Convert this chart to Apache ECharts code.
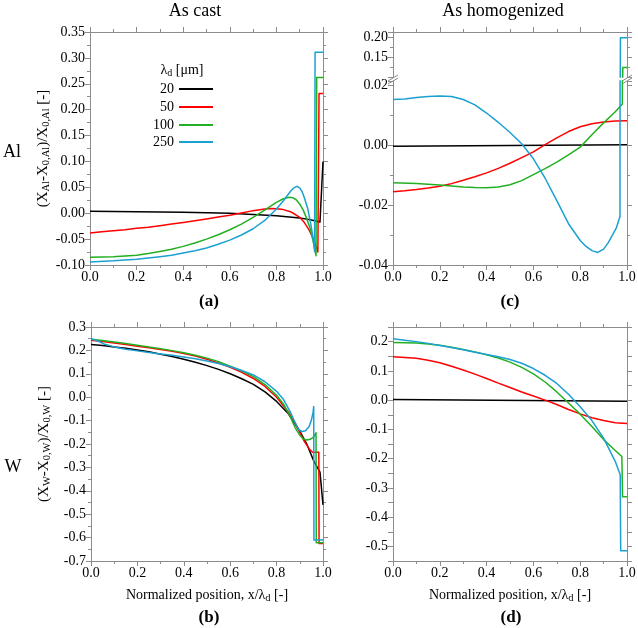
<!DOCTYPE html>
<html><head><meta charset="utf-8">
<script src="https://cdn.jsdelivr.net/npm/echarts@6/dist/echarts.min.js"></script>
<style>html,body{margin:0;padding:0;background:#fff}#c{width:638px;height:628px}</style>
</head><body><div id="c"></div>
<script>
// ---------- DATA ----------
const seriesNames = ['20', '50', '100', '250'];

// Panel (a): Al, as cast
const a20_x = [0, 0.2, 0.4, 0.6, 0.8, 0.9, 0.95, 0.987, 1.0];
const a20_y = [0.004, 0.003, 0.002, 0.0, -0.005, -0.009, -0.013, -0.017, 0.10];
const a50_x = [0, 0.05, 0.1, 0.15, 0.2, 0.25, 0.3, 0.35, 0.4, 0.45, 0.5, 0.55, 0.6, 0.65, 0.7, 0.75, 0.78, 0.8, 0.83, 0.86, 0.88, 0.9, 0.92, 0.94, 0.96, 0.978, 0.983, 1.0];
const a50_y = [-0.038, -0.036, -0.034, -0.032, -0.029, -0.027, -0.024, -0.021, -0.018, -0.0145, -0.011, -0.0075, -0.004, 0.0005, 0.005, 0.008, 0.009, 0.0088, 0.007, 0.003, -0.002, -0.008, -0.018, -0.032, -0.050, -0.075, 0.231, 0.231];
const a100_x = [0, 0.05, 0.1, 0.15, 0.2, 0.25, 0.3, 0.35, 0.4, 0.45, 0.5, 0.55, 0.6, 0.65, 0.7, 0.75, 0.78, 0.8, 0.83, 0.855, 0.87, 0.885, 0.9, 0.915, 0.93, 0.945, 0.958, 0.97, 0.973, 1.0];
const a100_y = [-0.085, -0.0845, -0.084, -0.0825, -0.081, -0.078, -0.074, -0.0695, -0.064, -0.0575, -0.050, -0.0415, -0.032, -0.021, -0.008, 0.006, 0.015, 0.021, 0.028, 0.031, 0.030, 0.026, 0.018, 0.006, -0.010, -0.030, -0.055, -0.082, 0.262, 0.262];
const a250_x = [0, 0.1, 0.2, 0.3, 0.35, 0.4, 0.45, 0.5, 0.55, 0.6, 0.65, 0.7, 0.75, 0.8, 0.83, 0.86, 0.875, 0.888, 0.9, 0.91, 0.92, 0.935, 0.948, 0.958, 0.964, 0.966, 1.0];
const a250_y = [-0.094, -0.092, -0.089, -0.084, -0.081, -0.077, -0.0725, -0.067, -0.060, -0.052, -0.042, -0.030, -0.014, 0.008, 0.024, 0.042, 0.049, 0.052, 0.049, 0.042, 0.030, 0.008, -0.022, -0.050, -0.074, 0.311, 0.311];

// Panel (b): W, as cast
const b20_x = [0, 0.05, 0.1, 0.15, 0.2, 0.25, 0.3, 0.35, 0.4, 0.45, 0.5, 0.55, 0.6, 0.65, 0.7, 0.75, 0.8, 0.85, 0.9, 0.93, 0.96, 0.987, 1.0];
const b20_y = [0.225, 0.221, 0.215, 0.209, 0.202, 0.194, 0.184, 0.174, 0.162, 0.149, 0.135, 0.119, 0.100, 0.079, 0.055, 0.023, -0.018, -0.070, -0.145, -0.200, -0.272, -0.320, -0.460];
const b50_x = [0, 0.05, 0.1, 0.15, 0.2, 0.25, 0.3, 0.35, 0.4, 0.45, 0.5, 0.55, 0.6, 0.65, 0.7, 0.75, 0.8, 0.85, 0.88, 0.9, 0.92, 0.94, 0.955, 0.982, 0.983, 1.0];
const b50_y = [0.243, 0.238, 0.232, 0.225, 0.218, 0.211, 0.204, 0.196, 0.187, 0.176, 0.162, 0.146, 0.128, 0.106, 0.080, 0.046, 0.000, -0.062, -0.110, -0.150, -0.190, -0.220, -0.235, -0.235, -0.625, -0.625];
const b100_x = [0, 0.05, 0.1, 0.15, 0.2, 0.25, 0.3, 0.35, 0.4, 0.45, 0.5, 0.55, 0.6, 0.65, 0.7, 0.75, 0.8, 0.83, 0.86, 0.88, 0.9, 0.915, 0.93, 0.945, 0.96, 0.97, 0.971, 1.0];
const b100_y = [0.248, 0.242, 0.236, 0.229, 0.222, 0.215, 0.207, 0.199, 0.190, 0.179, 0.167, 0.152, 0.133, 0.112, 0.088, 0.054, 0.008, -0.030, -0.085, -0.130, -0.163, -0.178, -0.183, -0.180, -0.170, -0.152, -0.622, -0.622];
const b250_x = [0, 0.03, 0.06, 0.1, 0.15, 0.2, 0.25, 0.3, 0.35, 0.4, 0.45, 0.5, 0.55, 0.6, 0.65, 0.7, 0.75, 0.8, 0.83, 0.86, 0.88, 0.895, 0.91, 0.925, 0.94, 0.95, 0.957, 0.96, 0.961, 1.0];
const b250_y = [0.250, 0.240, 0.226, 0.215, 0.205, 0.198, 0.191, 0.185, 0.179, 0.172, 0.164, 0.155, 0.144, 0.130, 0.114, 0.095, 0.066, 0.025, -0.010, -0.065, -0.110, -0.138, -0.147, -0.143, -0.125, -0.098, -0.065, -0.040, -0.610, -0.610];

// Panel (c): Al, as homogenized (broken axis)
const c20_x = [0, 1.0];
const c20_y = [-0.0003, 0.0002];
const c50_x = [0, 0.05, 0.1, 0.15, 0.2, 0.25, 0.3, 0.35, 0.4, 0.45, 0.5, 0.55, 0.6, 0.65, 0.7, 0.75, 0.8, 0.85, 0.9, 0.95, 1.0];
const c50_y = [-0.0155, -0.0152, -0.0148, -0.0143, -0.0137, -0.0128, -0.0117, -0.0105, -0.0092, -0.0077, -0.0060, -0.0041, -0.0022, 0.0002, 0.0025, 0.0046, 0.0062, 0.0072, 0.0078, 0.0081, 0.0082];
const c100_x = [0, 0.1, 0.2, 0.3, 0.35, 0.4, 0.45, 0.5, 0.55, 0.6, 0.65, 0.7, 0.75, 0.8, 0.85, 0.9, 0.95, 0.98, 0.982, 1.0];
const c100_y = [-0.0125, -0.0128, -0.0133, -0.0139, -0.0141, -0.0142, -0.0139, -0.0132, -0.0118, -0.0098, -0.0078, -0.0056, -0.0032, -0.0006, 0.0035, 0.0075, 0.0112, 0.0138, 0.124, 0.124];
const c250_x = [0, 0.05, 0.1, 0.15, 0.2, 0.25, 0.3, 0.35, 0.4, 0.45, 0.5, 0.55, 0.6, 0.65, 0.7, 0.75, 0.8, 0.825, 0.85, 0.875, 0.9, 0.92, 0.94, 0.955, 0.97, 0.972, 1.0];
const c250_y = [0.0153, 0.0155, 0.0160, 0.0163, 0.0165, 0.0163, 0.0153, 0.0135, 0.0108, 0.0077, 0.0043, 0.0005, -0.0045, -0.0110, -0.0185, -0.0262, -0.0318, -0.0338, -0.0352, -0.0358, -0.0347, -0.0325, -0.0297, -0.0275, -0.0238, 0.200, 0.200];

// Panel (d): W, as homogenized
const d20_x = [0, 1.0];
const d20_y = [0.002, -0.004];
const d50_x = [0, 0.05, 0.1, 0.15, 0.2, 0.25, 0.3, 0.35, 0.4, 0.45, 0.5, 0.55, 0.6, 0.65, 0.7, 0.75, 0.8, 0.85, 0.9, 0.95, 1.0];
const d50_y = [0.148, 0.146, 0.143, 0.136, 0.128, 0.116, 0.103, 0.089, 0.074, 0.058, 0.043, 0.028, 0.014, 0.000, -0.015, -0.032, -0.047, -0.060, -0.070, -0.077, -0.080];
const d100_x = [0, 0.1, 0.15, 0.2, 0.25, 0.3, 0.35, 0.4, 0.45, 0.5, 0.55, 0.6, 0.65, 0.7, 0.75, 0.8, 0.85, 0.9, 0.95, 0.978, 0.981, 1.0];
const d100_y = [0.197, 0.195, 0.192, 0.188, 0.181, 0.173, 0.165, 0.155, 0.144, 0.130, 0.112, 0.090, 0.062, 0.028, -0.010, -0.048, -0.090, -0.135, -0.172, -0.193, -0.330, -0.330];
const d250_x = [0, 0.05, 0.1, 0.15, 0.2, 0.25, 0.3, 0.35, 0.4, 0.45, 0.5, 0.55, 0.6, 0.65, 0.7, 0.75, 0.8, 0.85, 0.9, 0.95, 0.971, 0.973, 1.0];
const d250_y = [0.210, 0.205, 0.200, 0.194, 0.187, 0.180, 0.172, 0.164, 0.156, 0.148, 0.139, 0.126, 0.108, 0.085, 0.057, 0.020, -0.023, -0.070, -0.130, -0.210, -0.255, -0.515, -0.515];

// ---------- STYLE / BUILD ----------
const COLORS = ['#000000', '#ff0000', '#22b022', '#1ba0d2'];
const GRAY = '#8c8c8c';
const SERIF = 'Liberation Serif';
const pts = (xs, ys) => xs.map((x, i) => [x, ys[i]]);

function stepFmt(step, dec, minShow) {
  return function (v) {
    if (Math.abs(v) < 1e-9) v = 0;
    const k = v / step;
    if (Math.abs(k - Math.round(k)) > 1e-6) return '';
    if (minShow !== undefined && v < minShow) return '';
    return v.toFixed(dec);
  };
}

function axis(gridIndex, position, min, max, interval, showLabel, fmt, extra) {
  const o = {
    type: 'value', gridIndex, position, min, max, interval,
    axisLine: { show: true, onZero: false, lineStyle: { color: GRAY, width: 1 } },
    axisTick: { show: true, inside: false, length: 5, lineStyle: { color: GRAY } },
    minorTick: { show: true, splitNumber: 2, length: 3, lineStyle: { color: GRAY } },
    splitLine: { show: false }, minorSplitLine: { show: false },
    axisLabel: { show: showLabel, formatter: fmt, color: '#000', fontFamily: SERIF, fontSize: 14, margin: 5,
                 showMinLabel: true, showMaxLabel: true, hideOverlap: false },
    axisPointer: { show: false }
  };
  return Object.assign(o, extra || {});
}

const subRich = {
  n: { fontFamily: SERIF, fontSize: 15, color: '#000', lineHeight: 18, verticalAlign: 'middle' },
  s: { fontFamily: SERIF, fontSize: 10.5, color: '#000', lineHeight: 10, verticalAlign: 'bottom' }
};
const xName = '{n|Normalized position, x/λ}{s|d}{n| [-]}';
const xNameStyle = { rich: { n: Object.assign({}, subRich.n, { fontSize: 14 }), s: subRich.s } };

const grids = [
  { left: 90, top: 32, width: 233, height: 233 },     // a
  { left: 91, top: 327, width: 232, height: 234 },    // b
  { left: 393, top: 81, width: 234, height: 184 },    // c lower
  { left: 393, top: 32, width: 234, height: 45 },     // c upper
  { left: 393, top: 327, width: 234, height: 234 }    // d
].map(g => Object.assign({ outerBoundsMode: 'none', containLabel: false }, g));

const xf = stepFmt(0.2, 1);
const xAxes = [
  axis(0, 'bottom', 0, 1, 0.2, true, xf),
  axis(0, 'top', 0, 1, 0.2, false, xf),
  axis(1, 'bottom', 0, 1, 0.2, true, xf, { name: xName, nameLocation: 'middle', nameGap: 25, nameTextStyle: xNameStyle }),
  axis(1, 'top', 0, 1, 0.2, false, xf),
  axis(2, 'bottom', 0, 1, 0.2, true, xf),
  axis(3, 'top', 0, 1, 0.2, false, xf),
  axis(4, 'bottom', 0, 1, 0.2, true, xf, { name: xName, nameLocation: 'middle', nameGap: 25, nameTextStyle: xNameStyle }),
  axis(4, 'top', 0, 1, 0.2, false, xf)
];

const yNameA = '{n|(X}{s|Al}{n|-X}{s|0,Al}{n|)/X}{s|0,Al}{n| [-]}';
const yNameB = '{n|(X}{s|W}{n|-X}{s|0,W}{n|)/X}{s|0,W}{n| [-]}';
const yAxes = [
  axis(0, 'left', -0.10, 0.35, 0.05, true, stepFmt(0.05, 2), { name: yNameA, nameLocation: 'middle', nameGap: 37, nameTextStyle: { rich: subRich } }),
  axis(0, 'right', -0.10, 0.35, 0.05, false, null),
  axis(1, 'left', -0.7, 0.3, 0.1, true, stepFmt(0.1, 1), { name: yNameB, nameLocation: 'middle', nameGap: 38, nameTextStyle: { rich: subRich } }),
  axis(1, 'right', -0.7, 0.3, 0.1, false, null),
  axis(2, 'left', -0.04, 0.0215, 0.02, true, stepFmt(0.02, 2)),
  axis(2, 'right', -0.04, 0.0215, 0.02, false, null),
  axis(3, 'left', 0.10, 0.2143, 0.05, true, stepFmt(0.05, 2, 0.12)),
  axis(3, 'right', 0.10, 0.2143, 0.05, false, null),
  axis(4, 'left', -0.55, 0.25, 0.05, true, stepFmt(0.1, 1)),
  axis(4, 'right', -0.55, 0.25, 0.05, false, null)
];
yAxes[8].minorTick.show = false;
yAxes[9].minorTick.show = false;

const panels = [
  { xi: 0, yi: 0, data: [[a20_x, a20_y], [a50_x, a50_y], [a100_x, a100_y], [a250_x, a250_y]] },
  { xi: 2, yi: 2, data: [[b20_x, b20_y], [b50_x, b50_y], [b100_x, b100_y], [b250_x, b250_y]] },
  { xi: 4, yi: 4, data: [[c20_x, c20_y], [c50_x, c50_y], [c100_x, c100_y], [c250_x, c250_y]] },
  { xi: 5, yi: 6, data: [null, null, [c100_x, c100_y], [c250_x, c250_y]] },
  { xi: 6, yi: 8, data: [[d20_x, d20_y], [d50_x, d50_y], [d100_x, d100_y], [d250_x, d250_y]] }
];
const series = [];
panels.forEach(p => {
  p.data.forEach((d, i) => {
    if (!d) return;
    series.push({
      type: 'line', name: seriesNames[i], xAxisIndex: p.xi, yAxisIndex: p.yi,
      data: pts(d[0], d[1]), showSymbol: false, symbol: 'none', clip: true,
      lineStyle: { color: COLORS[i], width: 1.5, join: 'round' }, itemStyle: { color: COLORS[i] },
      z: 2 + i, silent: true
    });
  });
});

const legendCenters = [90, 108, 126, 143];
const legends = seriesNames.map((n, i) => ({
  data: [n], orient: 'vertical', right: 425, top: legendCenters[i] - 8, padding: 0,
  align: 'right', icon: 'rect', itemWidth: 34, itemHeight: 2, itemGap: 0,
  textStyle: { fontFamily: SERIF, fontSize: 14, color: '#000', padding: [0, 0, 0, 0] },
  selectedMode: false
}));

const T = (text, x, y, size, bold) => ({
  type: 'text', x, y, silent: true,
  style: { text, font: (bold ? 'bold ' : '') + size + 'px "' + SERIF + '"', fill: '#000', textAlign: 'center', textVerticalAlign: 'middle' }
});
const brk = (x) => ({
  type: 'group', silent: true, children: [
    { type: 'line', shape: { x1: x - 5, y1: 81, x2: x + 5, y2: 75 }, style: { stroke: GRAY, lineWidth: 1 } },
    { type: 'line', shape: { x1: x - 5, y1: 84, x2: x + 5, y2: 78 }, style: { stroke: GRAY, lineWidth: 1 } }
  ]
});
const graphics = [
  T('As cast', 195, 11, 18), T('As homogenized', 503, 11, 18),
  T('Al', 12, 152, 18), T('W', 13, 467, 18),
  T('(a)', 209, 302, 17, true), T('(c)', 510, 302, 17, true),
  T('(b)', 209, 618, 17, true), T('(d)', 511, 618, 17, true),
  { type: 'text', x: 182, y: 70, silent: true,
    style: { text: '{n|λ}{s|d}{n| [μm]}', textAlign: 'center', textVerticalAlign: 'middle',
             rich: { n: { fontFamily: SERIF, fontSize: 14, fill: '#000', lineHeight: 16, verticalAlign: 'middle' },
                     s: { fontFamily: SERIF, fontSize: 10, fill: '#000', lineHeight: 9, verticalAlign: 'bottom' } } } },
  brk(393), brk(627)
];

const chart = echarts.init(document.getElementById('c'), null, { renderer: 'canvas' });
chart.setOption({
  animation: false,
  backgroundColor: '#ffffff',
  grid: grids,
  xAxis: xAxes,
  yAxis: yAxes,
  legend: legends,
  series: series,
  graphic: graphics
});
</script></body></html>
